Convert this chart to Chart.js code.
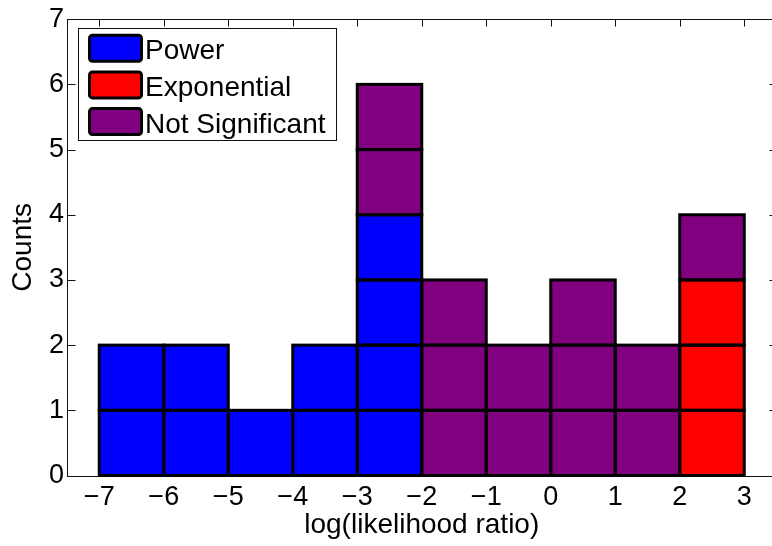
<!DOCTYPE html>
<html>
<head>
<meta charset="utf-8">
<script src="https://cdn.jsdelivr.net/npm/chart.js@4/dist/chart.umd.min.js"></script>
<style>
  html, body { margin: 0; padding: 0; background: #fff; overflow: hidden; }
  #wrap { width: 800px; height: 546px; }
</style>
</head>
<body>
<div id="wrap"><canvas id="c" width="800" height="546"></canvas></div>
<script>
// Histogram of log(likelihood ratio), one box per counted case
const binCenters = [-6.5, -5.5, -4.5, -3.5, -2.5, -1.5, -0.5, 0.5, 1.5, 2.5];
const powerCounts = [2, 2, 1, 2, 4, 0, 0, 0, 0, 0];
const exponentialCounts = [0, 0, 0, 0, 0, 0, 0, 0, 0, 3];
const notSignificantCounts = [0, 0, 0, 0, 2, 3, 2, 3, 2, 1];
const seriesNames = ['Power', 'Exponential', 'Not Significant'];
const seriesColors = ['#0000ff', '#ff0000', '#800080'];
const xTickValues = [-7, -6, -5, -4, -3, -2, -1, 0, 1, 2, 3];
const yTickValues = [0, 1, 2, 3, 4, 5, 6, 7];

const FONT = "'Liberation Sans', Arial, Helvetica, sans-serif";
Chart.defaults.font.family = FONT;
Chart.defaults.color = '#000';

// Stack order within each bin: power, then exponential, then not significant
const counts = [powerCounts, exponentialCounts, notSignificantCounts];
const totals = binCenters.map((_, i) => counts.reduce((s, c) => s + c[i], 0));
const maxTotal = Math.max(...totals);

function categoryAt(i, level) {
  let acc = 0;
  for (let s = 0; s < counts.length; s++) {
    acc += counts[s][i];
    if (level < acc) return s;
  }
  return -1;
}

// One dataset per unit layer so every count gets its own outlined box
const datasets = [];
for (let k = 0; k < maxTotal; k++) {
  const cats = binCenters.map((_, i) => categoryAt(i, k));
  datasets.push({
    label: 'layer ' + (k + 1),
    data: binCenters.map((x, i) => ({ x: x, y: cats[i] >= 0 ? 1 : null })),
    backgroundColor: cats.map(c => c >= 0 ? seriesColors[c] : 'rgba(0,0,0,0)'),
    borderWidth: 0,
    inflateAmount: 0,
    categoryPercentage: 1.0,
    barPercentage: 1.0
  });
}

const fmt = v => (v < 0 ? '\u2212' + Math.abs(v) : String(v));

// Axes box with inward tick marks on all four sides
const axesBox = {
  id: 'axesBox',
  beforeDatasetsDraw(chart) {
    const { ctx, chartArea: a, scales: { x, y } } = chart;
    const L = Math.round(a.left) + 0.5, R = Math.round(a.right) + 0.5;
    const T = Math.round(a.top) + 0.5, B = Math.round(a.bottom) + 0.5;
    ctx.save();
    ctx.strokeStyle = '#111';
    ctx.lineWidth = 1;
    ctx.strokeRect(L, T, R - L, B - T);
    ctx.beginPath();
    xTickValues.forEach(v => {
      const px = Math.round(x.getPixelForValue(v)) + 0.5;
      ctx.moveTo(px, T); ctx.lineTo(px, T + 7);
      ctx.moveTo(px, B); ctx.lineTo(px, B - 7);
    });
    yTickValues.forEach(v => {
      const py = Math.round(y.getPixelForValue(v)) + 0.5;
      ctx.moveTo(L, py); ctx.lineTo(L + 8, py);
      ctx.moveTo(R, py); ctx.lineTo(R - 8, py);
    });
    ctx.stroke();
    ctx.restore();
  }
};

// Black outline centred on every box edge
const boxOutlines = {
  id: 'boxOutlines',
  afterDatasetsDraw(chart) {
    const ctx = chart.ctx;
    ctx.save();
    ctx.lineWidth = 3;
    ctx.strokeStyle = '#000';
    chart.data.datasets.forEach((ds, i) => {
      const meta = chart.getDatasetMeta(i);
      meta.data.forEach((bar, j) => {
        if (ds.data[j].y == null) return;
        const p = bar.getProps(['x', 'y', 'base', 'width'], true);
        ctx.strokeRect(p.x - p.width / 2, Math.min(p.y, p.base), p.width, Math.abs(p.base - p.y));
      });
    });
    ctx.restore();
  }
};

// Legend box in the upper left of the plot
const legendBox = {
  id: 'legendBox',
  afterDraw(chart) {
    const ctx = chart.ctx;
    const a = chart.chartArea;
    const bx = a.left + 11, by = a.top + 9, bw = 258, bh = 112;
    ctx.save();
    ctx.fillStyle = '#fff';
    ctx.fillRect(bx, by, bw, bh);
    ctx.strokeStyle = '#111';
    ctx.lineWidth = 1;
    ctx.strokeRect(Math.round(bx) + 0.5, Math.round(by) + 0.5, bw, bh);
    ctx.font = '28px ' + FONT;
    ctx.textBaseline = 'alphabetic';
    ctx.textAlign = 'left';
    seriesNames.forEach((name, i) => {
      const base = by + 31 + i * 36.7;
      const sy = base - 24;
      ctx.beginPath();
      ctx.roundRect(bx + 11.5, sy, 52, 26, 3);
      ctx.fillStyle = seriesColors[i];
      ctx.fill();
      ctx.lineWidth = 3;
      ctx.strokeStyle = '#000';
      ctx.stroke();
      ctx.fillStyle = '#000';
      ctx.fillText(name, bx + 67, base);
    });
    ctx.restore();
  }
};

new Chart(document.getElementById('c'), {
  type: 'bar',
  data: { datasets: datasets },
  plugins: [axesBox, boxOutlines, legendBox],
  options: {
    responsive: false,
    animation: false,
    layout: { padding: { top: 16.5, right: 23.5, bottom: 0, left: 0 } },
    plugins: { legend: { display: false }, tooltip: { enabled: false } },
    scales: {
      x: {
        type: 'linear',
        stacked: true,
        offset: false,
        min: -7.5,
        max: 3.5,
        afterBuildTicks: s => { s.ticks = xTickValues.map(v => ({ value: v })); },
        afterFit: s => { s.height = 70.5; },
        grid: { display: false, drawTicks: false },
        border: { display: false },
        ticks: { font: { size: 27 }, padding: 6, maxRotation: 0, autoSkip: false, callback: v => fmt(v) },
        title: { display: true, text: 'log(likelihood ratio)', font: { size: 28 }, padding: { top: 0, bottom: 4 } }
      },
      y: {
        stacked: true,
        min: 0,
        max: 7,
        afterBuildTicks: s => { s.ticks = yTickValues.map(v => ({ value: v })); },
        afterFit: s => { s.width = 67; },
        grid: { display: false, drawTicks: false },
        border: { display: false },
        ticks: { font: { size: 27 }, padding: 3, autoSkip: false, callback: v => fmt(v) },
        title: { display: true, text: 'Counts', font: { size: 28 }, padding: { top: 6, bottom: 0 } }
      }
    }
  }
});
</script>
</body>
</html>
